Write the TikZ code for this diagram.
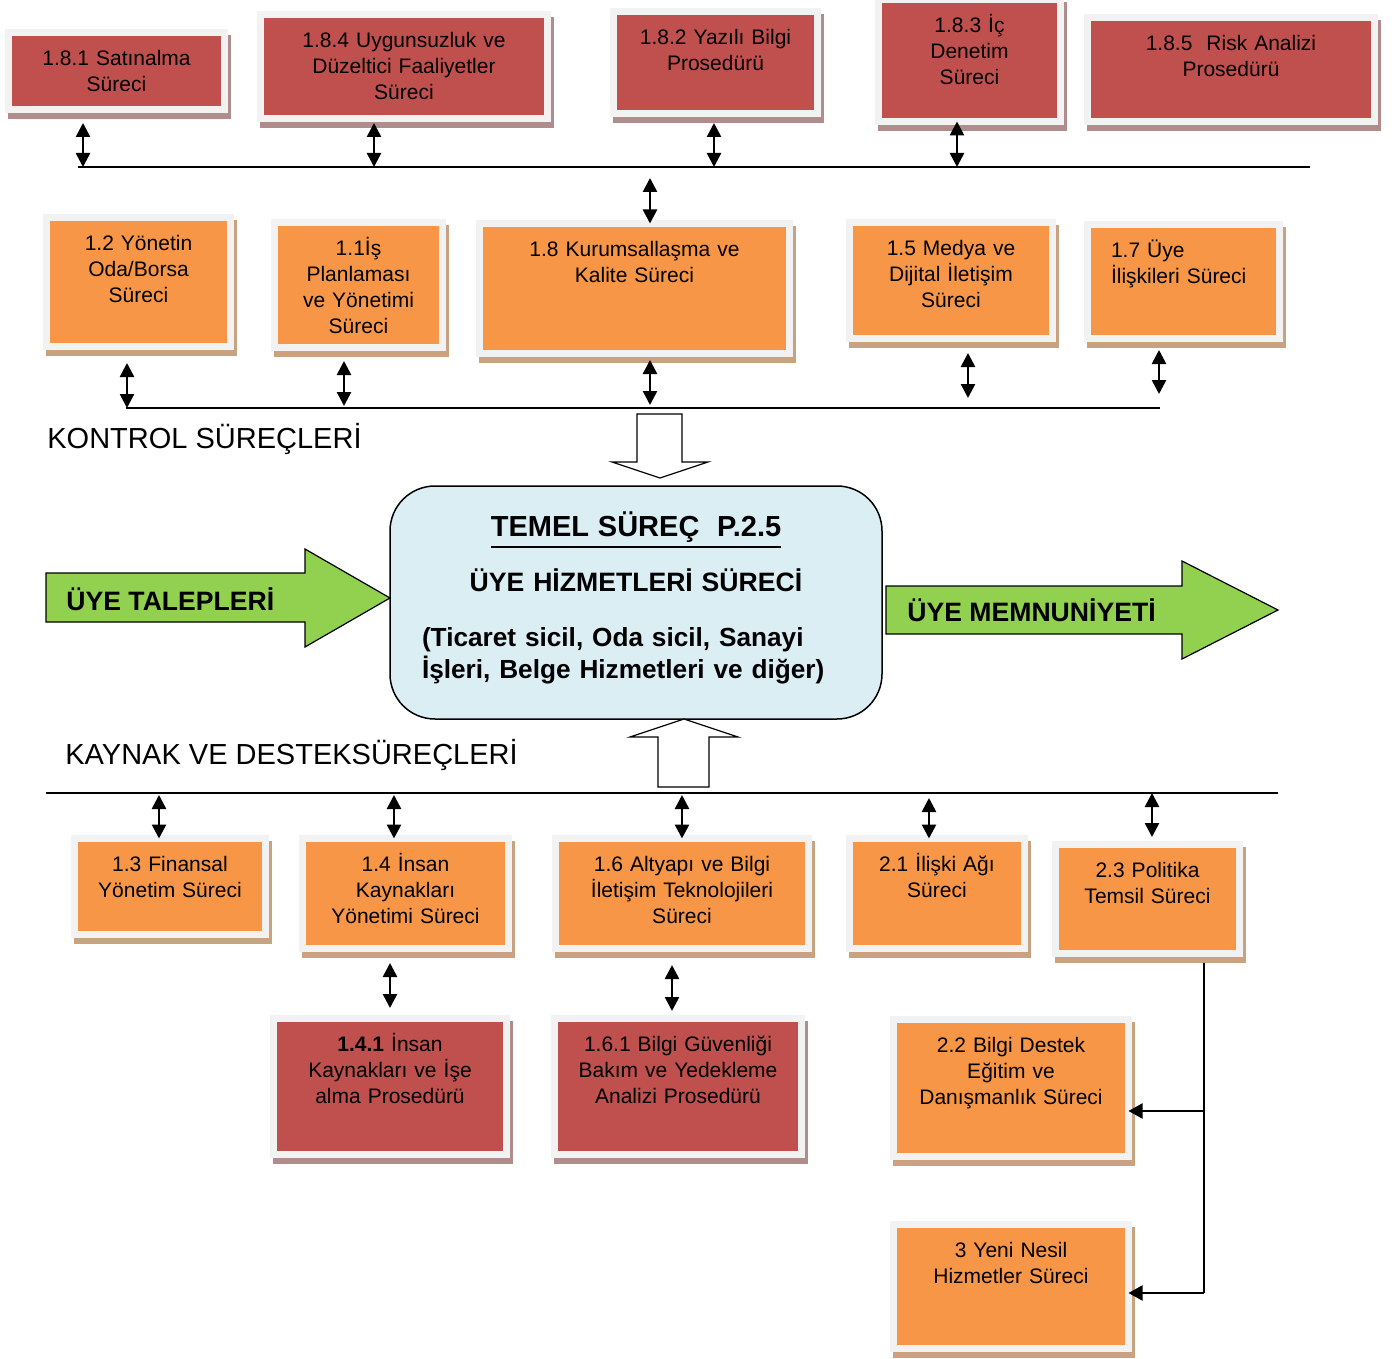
\documentclass[tikz,border=0pt]{standalone}
\usepackage{fontspec}
\setmainfont{Liberation Sans}
\usepackage{xcolor}
\definecolor{procred}{HTML}{C0504D}
\definecolor{procorange}{HTML}{F79646}
\definecolor{procframe}{HTML}{F2F2F2}
\definecolor{redshade}{HTML}{B08C8C}
\definecolor{orangeshade}{HTML}{C9A27F}
\definecolor{coreblue}{HTML}{DAEEF3}
\definecolor{flowgreen}{HTML}{92D050}
\usepackage{tikz}
\usetikzlibrary{arrows.meta, shadows}
\tikzset{
  pbox/.style   ={rectangle, draw=procframe, line width=3.5pt, outer sep=0pt, inner ysep=0pt, inner xsep=3pt,
                  align=center, anchor=north west, text height=16.5pt, font=\fontsize{10.5}{13}\selectfont},
  pred/.style   ={pbox, fill=procred,
                  drop shadow={shadow xshift=1.5pt, shadow yshift=-3pt, fill=redshade, draw=redshade, line width=3.5pt, opacity=1}},
  porange/.style={pbox, fill=procorange,
                  drop shadow={shadow xshift=1.5pt, shadow yshift=-3pt, fill=orangeshade, draw=orangeshade, line width=3.5pt, opacity=1}},
  bsize/.style 2 args={text width=#1*0.5pt-6pt, text depth=#2*0.5pt-16.5pt},
  corebox/.style={rectangle, rounded corners=22.5pt, draw=black, line width=0.75pt, fill=coreblue, outer sep=0pt,
                  anchor=north west, inner xsep=16pt, inner ysep=0pt, text width=214pt, text height=25pt, text depth=91.5pt,
                  align=center, font=\bfseries\fontsize{13.3}{27.5}\selectfont},
  seclbl/.style ={anchor=base west, inner sep=0pt, font=\fontsize{14.5}{17}\selectfont},
  flowlbl/.style={anchor=base west, inner sep=0pt, font=\bfseries\fontsize{13.3}{16}\selectfont},
  flowarr/.style={draw=black, line width=0.6pt, fill=flowgreen, line join=miter},
  hollowarr/.style={draw=black, line width=0.6pt, fill=white},
  bus/.style    ={line width=1.1pt},
  darr/.style   ={{Triangle[length=7pt,width=7pt]}-{Triangle[length=7pt,width=7pt]}, line width=1.3pt},
  link/.style   ={line width=1pt},
  linkarr/.style={-{Triangle[length=7pt,width=7.5pt]}, line width=1pt},
}
\newcommand{\thickul}[1]{\vtop{\hbox{#1}\kern2pt\hrule height 1pt}}
\begin{document}
\begin{tikzpicture}[x=0.5pt, y=-0.5pt]
  \useasboundingbox (0,0) rectangle (1394,1359);
  % kontrol süreçleri: prosedürler (üst sıra)
  \node[pred, bsize={216}{77}]  (s181) at (8.5,32.5)    {1.8.1 Satınalma\\Süreci};
  \node[pred, bsize={287}{104}] (s184) at (260.5,14.5)  {1.8.4 Uygunsuzluk ve\\Düzeltici Faaliyetler\\Süreci};
  \node[pred, bsize={204}{102}] (s182) at (613.5,11.5)  {1.8.2 Yazılı Bilgi\\Prosedürü};
  \node[pred, bsize={182}{122}] (s183) at (878.5,-0.5)  {1.8.3 İç\\Denetim\\Süreci};
  \node[pred, bsize={287}{104}] (s185) at (1087.5,17.5) {1.8.5\ \ Risk Analizi\\Prosedürü};
  % kontrol süreçleri (orta sıra)
  \node[porange, bsize={184}{129}] (s12) at (46.5,217.5)  {1.2 Yönetin\\Oda/Borsa\\Süreci};
  \node[porange, bsize={168}{125}] (s11) at (274.5,222.5) {1.1İş\\Planlaması\\ve Yönetimi\\Süreci};
  \node[porange, bsize={310}{130}] (s18) at (479.5,223.5) {1.8 Kurumsallaşma ve\\Kalite Süreci};
  \node[porange, bsize={203}{116}] (s15) at (849.5,222.5) {1.5 Medya ve\\Dijital İletişim\\Süreci};
  \node[porange, bsize={192}{114}, align=left, inner xsep=11.75pt, text width=72.5pt]
       (s17) at (1087.5,224.5) {1.7 Üye\\İlişkileri Süreci};
  % bağlantı çizgileri
  \coordinate (t1) at (83,167);  \coordinate (t2) at (374,167); \coordinate (t3) at (714,167);
  \coordinate (t4) at (957,167); \coordinate (t5) at (650,167);
  \coordinate (m1) at (127,408); \coordinate (m2) at (344,408); \coordinate (m3) at (650,408);
  \coordinate (m4) at (968,408); \coordinate (m5) at (1159,408);
  \draw[bus] (78,167) -- (1310,167);
  \draw[bus] (126,408) -- (1160,408);
  \draw[darr, shorten <=6.75pt] (s181.south -| t1) -- (t1);
  \draw[darr, shorten <=2.25pt] (s184.south -| t2) -- (t2);
  \draw[darr, shorten <=4.75pt] (s182.south -| t3) -- (t3);
  \draw[darr]                   (s183.south -| t4) -- (t4);
  \draw[darr, shorten <=5.5pt]  (t5) -- (s18.north -| t5);
  \draw[darr, shorten <=8.25pt] (s12.south -| m1) -- (m1);
  \draw[darr, shorten <=6.75pt, shorten >=1pt]  (s11.south -| m2) -- (m2);
  \draw[darr, shorten <=3.25pt, shorten >=1.5pt] (s18.south -| m3) -- (m3);
  \draw[darr, shorten <=7.25pt, shorten >=5pt]   (s15.south -| m4) -- (m4);
  \draw[darr, shorten <=5.75pt, shorten >=7pt]   (s17.south -| m5) -- (m5);
  \node[seclbl] (kontrol) at (47,448) {KONTROL SÜREÇLERİ};
  % temel süreç
  \draw[hollowarr] (637,414) -- (682,414) -- (682,462) -- (708,462) -- (660,478) -- (612,462) -- (637,462) -- cycle;
  \node[corebox] (core) at (390,486) {%
    {\fontsize{14.5}{17}\selectfont\thickul{TEMEL SÜREÇ\ \ P.2.5}}\\
    ÜYE HİZMETLERİ SÜRECİ\\
    \parbox[t]{\linewidth}{\raggedright\fontsize{13.1}{16}\selectfont (Ticaret sicil, Oda sicil, Sanayi\\İşleri, Belge Hizmetleri ve diğer)}};
  \draw[flowarr] (46,573) -- (305,573) -- (305,549) -- (390,598) -- (305,647) -- (305,622) -- (46,622) -- cycle;
  \node[flowlbl] (talep) at (66,610) {ÜYE TALEPLERİ};
  \draw[flowarr] (886,586) -- (1182,586) -- (1182,561) -- (1278,610) -- (1182,659) -- (1182,634) -- (886,634) -- cycle;
  \node[flowlbl] (memnun) at (907,621) {ÜYE MEMNUNİYETİ};
  \draw[hollowarr] (658,787) -- (709,787) -- (709,737) -- (738,737) -- (684,719) -- (630,737) -- (658,737) -- cycle;
  \node[seclbl] (kaynak) at (65,764) {KAYNAK VE DESTEKSÜREÇLERİ};
  % kaynak ve destek süreçleri
  \node[porange, bsize={191}{96}]  (s13) at (74.5,838.5)   {1.3 Finansal\\Yönetim Süreci};
  \node[porange, bsize={206}{110}] (s14) at (302.5,838.5)  {1.4 İnsan\\Kaynakları\\Yönetimi Süreci};
  \node[porange, bsize={253}{110}] (s16) at (555.5,838.5)  {1.6 Altyapı ve Bilgi\\İletişim Teknolojileri\\Süreci};
  \node[porange, bsize={175}{110}] (s21) at (849.5,838.5)  {2.1 İlişki Ağı\\Süreci};
  \node[porange, bsize={184}{109}] (s23) at (1055.5,844.5) {2.3 Politika\\Temsil Süreci};
  \node[pred, bsize={233}{136}]    (s141) at (273.5,1018.5) {\textbf{1.4.1} İnsan\\Kaynakları ve İşe\\alma Prosedürü};
  \node[pred, bsize={247}{136}]    (s161) at (554.5,1018.5) {1.6.1 Bilgi Güvenliği\\Bakım ve Yedekleme\\Analizi Prosedürü};
  \node[porange, bsize={235}{137}] (s22) at (893.5,1019.5)  {2.2 Bilgi Destek\\Eğitim ve\\Danışmanlık Süreci};
  \node[porange, bsize={235}{124}] (s3)  at (893.5,1224.5)  {3 Yeni Nesil\\Hizmetler Süreci};
  \coordinate (a1) at (159,793); \coordinate (a2) at (394,793); \coordinate (a3) at (682,793);
  \coordinate (a4) at (929,793); \coordinate (a5) at (1152,793);
  \coordinate (r1) at (390,985); \coordinate (r2) at (672,987);
  \draw[bus] (46,793) -- (1278,793);
  \draw[darr, shorten <=1pt]   (a1) -- (s13.north -| a1);
  \draw[darr, shorten <=1pt]   (a2) -- (s14.north -| a2);
  \draw[darr, shorten <=1pt]   (a3) -- (s16.north -| a3);
  \draw[darr, shorten <=2.5pt] (a4) -- (s21.north -| a4);
  \draw[darr, shorten >=3.75pt] (a5) -- (s23.north -| a5);
  \draw[darr, shorten <=7.25pt, shorten >=5.25pt] (s14.south -| r1) -- (s141.north -| r1);
  \draw[darr, shorten <=8.25pt, shorten >=3.75pt] (s16.south -| r2) -- (s161.north -| r2);
  % 2.3 -> 2.2 ve 3
  \coordinate (jn) at (1204,1111);
  \coordinate (jb) at (1204,1293);
  \draw[link, shorten <=4.5pt] (s23.south -| jb) -- (jb);
  \draw[linkarr] (jn) -- (jn -| s22.east);
  \draw[linkarr] (jb) -- (jb -| s3.east);
\end{tikzpicture}
\end{document}
